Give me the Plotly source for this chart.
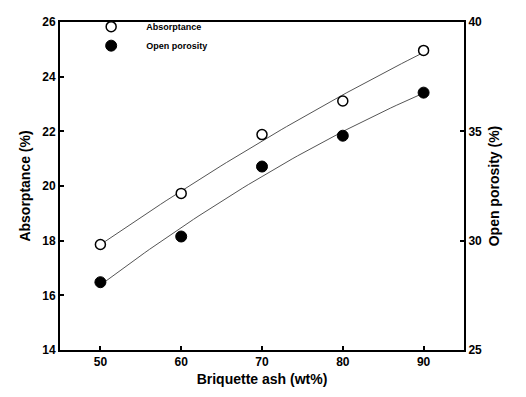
import numpy as np
import plotly.graph_objects as go

ash = [50, 60, 70, 80, 90]
absorptance = [17.86, 19.73, 21.88, 23.11, 24.96]
porosity = [28.1, 30.19, 33.39, 34.8, 36.77]

xf = np.linspace(50, 90, 60)
fa = np.polyval(np.polyfit(ash, absorptance, 2), xf)
fp = np.polyval(np.polyfit(ash, porosity, 2), xf)

F = "Liberation Sans, Arial, sans-serif"
fig = go.Figure()
fig.add_trace(go.Scatter(x=xf, y=fa, mode="lines", line=dict(color="#555", width=1), showlegend=False, hoverinfo="skip"))
fig.add_trace(go.Scatter(x=xf, y=fp, mode="lines", line=dict(color="#555", width=1), showlegend=False, yaxis="y2", hoverinfo="skip"))
fig.add_trace(go.Scatter(x=ash, y=absorptance, mode="markers", name="Absorptance",
                         marker=dict(symbol="circle", size=10, color="white", line=dict(color="black", width=1.5))))
fig.add_trace(go.Scatter(x=ash, y=porosity, mode="markers", name="Open porosity", yaxis="y2",
                         marker=dict(symbol="circle", size=11, color="black", line=dict(color="black", width=1))))

axcommon = dict(showline=True, linecolor="black", linewidth=2, ticks="inside", ticklen=4, tickwidth=1.5,
                tickcolor="black", showgrid=False, zeroline=False,
                tickfont=dict(family=F, size=12, color="black", weight="bold"))
fig.update_layout(
    width=526, height=397, paper_bgcolor="white", plot_bgcolor="white",
    margin=dict(l=60, r=62, t=12, b=43),
    font=dict(family=F, color="black"),
    xaxis=dict(range=[45, 95], tickvals=[50, 60, 70, 80, 90], mirror=True,
               title=dict(text="Briquette ash (wt%)", font=dict(family=F, size=14, weight="bold"), standoff=6),
               **axcommon),
    yaxis=dict(range=[14, 26], tickvals=[14, 16, 18, 20, 22, 24, 26],
               title=dict(text="Absorptance (%)", font=dict(family=F, size=14, weight="bold"), standoff=8),
               **axcommon),
    yaxis2=dict(range=[25, 40], tickvals=[25, 30, 35, 40], overlaying="y", side="right",
                title=dict(text="Open porosity (%)", font=dict(family=F, size=14, weight="bold"), standoff=8),
                **axcommon),
    legend=dict(x=0.04, y=1.03, xanchor="left", yanchor="top", bgcolor="rgba(0,0,0,0)",
                font=dict(family=F, size=9, weight="bold"), tracegroupgap=0, itemwidth=60),
)
fig.write_html("out.html")
